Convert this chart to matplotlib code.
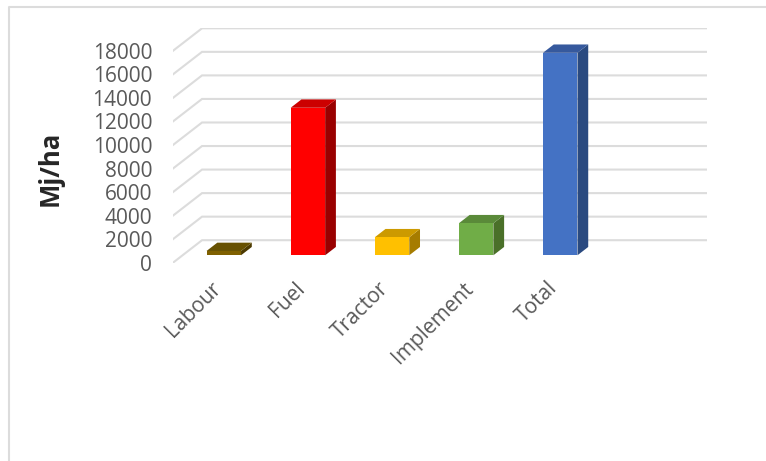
import matplotlib
matplotlib.use('Agg')
import matplotlib.pyplot as plt
from matplotlib.patches import Polygon
from matplotlib.lines import Line2D
from matplotlib.transforms import ScaledTranslation

categories = ['Labour', 'Fuel', 'Tractor', 'Implement', 'Total']
energy = [365, 12530, 1530, 2720, 17200]
front_colors = ['#7f6000', '#ff0000', '#ffc000', '#70ad47', '#4472c4']
top_colors = ['#665000', '#cc0000', '#cc9a00', '#5a8a39', '#36599d']
side_colors = ['#4c3a00', '#990000', '#a67c00', '#4a7029', '#2a4a80']
y_ticks = list(range(0, 18001, 2000))

# oblique offset of the floor and walls, in data units
depth_x = 29 / 84
depth_y = 22.5 * 18000 / 212
bar_half = 0.205
bar_front = 0.33
bar_back = 0.70
bar_nudge = -0.01


def shift(x, y, d):
    return (x + d * depth_x, y + d * depth_y)


W, H = 766, 461
fig = plt.figure(figsize=(W / 100, H / 100), dpi=100)
plt.rcParams['font.family'] = ['Open Sans', 'DejaVu Sans']
left, right, bottom, top = 173, 706.7, 262.7, 28.3
ax = fig.add_axes([left / W, 1 - bottom / H, (right - left) / W, (bottom - top) / H])
ax.set_xlim(-0.5, 5.5 + depth_x)
ax.set_ylim(0, 18000 + depth_y)
for s in ax.spines.values():
    s.set_visible(False)

# gridlines run along the side wall then the back wall
for v in y_ticks:
    pts = [shift(-0.5, v, 0), shift(-0.5, v, 1), shift(5.5, v, 1)]
    ax.plot(*zip(*pts), color='#dcdcdc', lw=1.5, zorder=1, solid_joinstyle='miter')

for i, v in enumerate(energy):
    x0, x1 = i - bar_half + bar_nudge, i + bar_half + bar_nudge
    front = [shift(x0, 0, bar_front), shift(x1, 0, bar_front), shift(x1, v, bar_front), shift(x0, v, bar_front)]
    topf = [shift(x0, v, bar_front), shift(x1, v, bar_front), shift(x1, v, bar_back), shift(x0, v, bar_back)]
    side = [shift(x1, 0, bar_front), shift(x1, 0, bar_back), shift(x1, v, bar_back), shift(x1, v, bar_front)]
    ax.add_patch(Polygon(side, closed=True, fc=side_colors[i], ec='none', zorder=3))
    ax.add_patch(Polygon(topf, closed=True, fc=top_colors[i], ec='none', zorder=3))
    ax.add_patch(Polygon(front, closed=True, fc=front_colors[i], ec='none', zorder=4))

ax.set_yticks(y_ticks)
ax.set_yticklabels([str(v) for v in y_ticks], fontsize=15, color='#595959')
ax.tick_params(axis='y', length=0, pad=15)
ax.set_xticks(range(len(categories)))
ax.set_xticklabels(categories, fontsize=15, color='#595959', rotation=45, ha='right', rotation_mode='anchor')
ax.tick_params(axis='x', length=0, pad=11)
# slide the slanted labels left of their ticks
label_offset = ScaledTranslation(-5 / 100, 0, fig.dpi_scale_trans)
for lab in ax.get_xticklabels():
    lab.set_transform(lab.get_transform() + label_offset)

fig.text(50 / W, 1 - 168 / H, 'Mj/ha', rotation=90, fontsize=18.5, fontweight='bold',
         color='#262626', ha='center', va='center')

# chart frame
fig.add_artist(Line2D([8.5 / W, 8.5 / W, 1], [0, 1 - 7 / H, 1 - 7 / H], color='#dcdcdc', lw=1.5))

fig.savefig('out.png', dpi=100)
